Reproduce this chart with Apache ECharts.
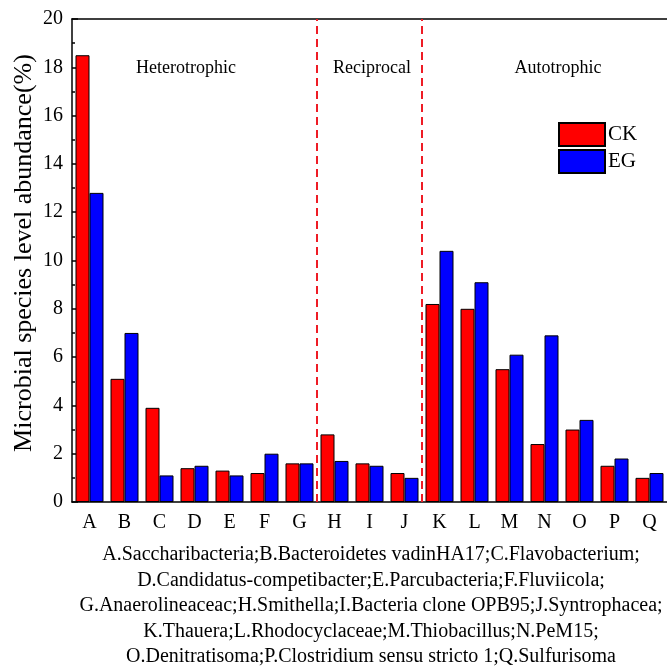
<!DOCTYPE html>
<html>
<head>
<meta charset="utf-8">
<script src="https://cdn.jsdelivr.net/npm/echarts@6/dist/echarts.min.js"></script>
<style>html,body{margin:0;padding:0;background:#fff}#c{width:667px;height:667px}</style>
</head>
<body>
<div id="c"></div>
<script>
const categories = ['A','B','C','D','E','F','G','H','I','J','K','L','M','N','O','P','Q'];
const ckValues = [18.5, 5.1, 3.9, 1.4, 1.3, 1.2, 1.6, 2.8, 1.6, 1.2, 8.2, 8.0, 5.5, 2.4, 3.0, 1.5, 1.0];
const egValues = [12.8, 7.0, 1.1, 1.5, 1.1, 2.0, 1.6, 1.7, 1.5, 1.0, 10.4, 9.1, 6.1, 6.9, 3.4, 1.8, 1.2];
const groupBoundaries = [7, 10];
const groupNames = ['Heterotrophic', 'Reciprocal', 'Autotrophic'];
const captionLines = [
  'A.Saccharibacteria;B.Bacteroidetes vadinHA17;C.Flavobacterium;',
  'D.Candidatus-competibacter;E.Parcubacteria;F.Fluviicola;',
  'G.Anaerolineaceac;H.Smithella;I.Bacteria clone OPB95;J.Syntrophacea;',
  'K.Thauera;L.Rhodocyclaceae;M.Thiobacillus;N.PeM15;',
  'O.Denitratisoma;P.Clostridium sensu stricto 1;Q.Sulfurisoma'
];
const yTicks = {min: 0, max: 20, interval: 2};
const yAxisName = 'Microbial species level abundance(%)';

const FONT = '"Liberation Serif", "Times New Roman", serif';
const chart = echarts.init(document.getElementById('c'));
const groupLabelX = [186, 372, 558];

chart.setOption({
  animation: false,
  backgroundColor: '#fff',
  grid: {left: 72, top: 19, width: 599, height: 483},
  legend: {
    orient: 'vertical', left: 553, top: 117, itemWidth: 46, itemHeight: 23, itemGap: 2,
    icon: 'rect',
    textStyle: {fontFamily: FONT, fontSize: 21, color: '#000', padding: [0,0,0,-2]},
    data: ['CK', 'EG']
  },
  xAxis: [{
    type: 'category', data: categories, boundaryGap: true,
    axisLine: {lineStyle: {color: '#000', width: 1.5}},
    axisTick: {inside: true, length: 4, interval: 0, lineStyle: {color: '#000', width: 1.5}},
    axisLabel: {fontFamily: FONT, fontSize: 20, color: '#000', margin: 11, interval: 0}
  }, {
    type: 'value', min: 0, max: categories.length, show: false
  }, {
    type: 'category', data: categories, position: 'top',
    axisLine: {show: true, lineStyle: {color: '#000', width: 1.5}},
    axisTick: {show: false}, axisLabel: {show: false}
  }],
  yAxis: {
    type: 'value', min: yTicks.min, max: yTicks.max, interval: yTicks.interval,
    axisLine: {show: true, lineStyle: {color: '#000', width: 1.5}},
    axisTick: {inside: true, length: 6, lineStyle: {color: '#000', width: 1.5}},
    minorTick: {show: true, splitNumber: 2, length: 3, lineStyle: {color: '#000', width: 1.5}},
    splitLine: {show: false},
    axisLabel: {fontFamily: FONT, fontSize: 20, color: '#000', margin: 9}
  },
  series: [{
    name: 'CK', type: 'bar', data: ckValues, barWidth: 14, barGap: '0%',
    itemStyle: {color: '#ff0000', borderColor: '#000', borderWidth: 1}
  }, {
    name: 'EG', type: 'bar', data: egValues, barWidth: 14, barGap: '0%',
    itemStyle: {color: '#0000ff', borderColor: '#000', borderWidth: 1}
  }, {
    type: 'scatter', xAxisIndex: 1, symbolSize: 0, data: [],
    markLine: {
      silent: true, symbol: 'none', label: {show: false},
      lineStyle: {color: '#ee1c25', type: [8, 5], width: 2},
      data: groupBoundaries.map(v => ({xAxis: v}))
    }
  }],
  graphic: groupNames.map((t, i) => ({
    type: 'text', x: groupLabelX[i], y: 68,
    style: {text: t, font: '18px ' + FONT, fill: '#000', textAlign: 'center', textVerticalAlign: 'middle'}
  })).concat(captionLines.map((t, i) => ({
    type: 'text', x: 371, y: 555 + i * 25.5,
    style: {text: t, font: '20px ' + FONT, fill: '#000', textAlign: 'center', textVerticalAlign: 'middle'}
  }))).concat([{
    type: 'text', x: 24, y: 253, rotation: Math.PI / 2,
    style: {text: yAxisName, font: '26px ' + FONT, fill: '#000', textAlign: 'center', textVerticalAlign: 'middle'}
  }])
});
</script>
</body>
</html>
